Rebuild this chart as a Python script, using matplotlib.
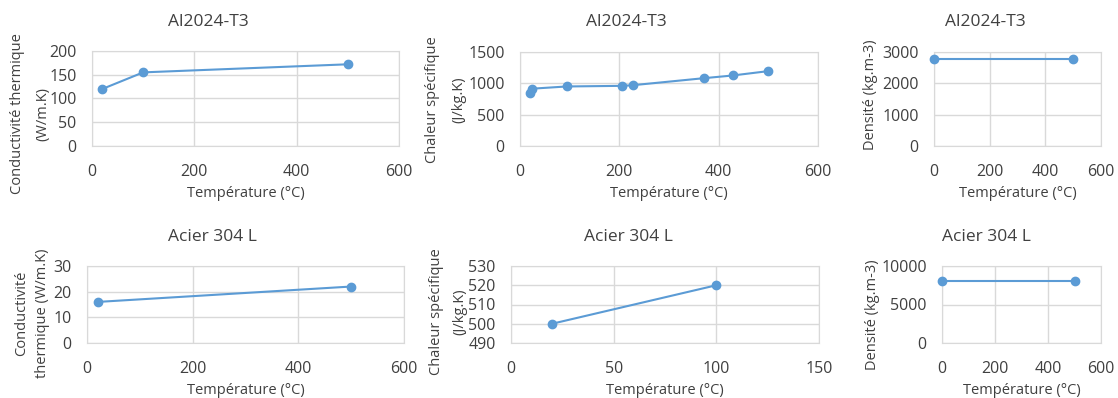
import matplotlib.pyplot as plt

plt.rcParams['font.family'] = ['Open Sans', 'DejaVu Sans']

# --- donnees ---
al_k_T = [20, 100, 500]
al_k = [120, 155, 172]

al_cp_T = [20, 25, 94, 206, 227, 370, 428, 500]
al_cp = [840, 915, 950, 960, 970, 1082, 1125, 1195]

al_rho_T = [0, 500]
al_rho = [2780, 2780]

ac_k_T = [20, 500]
ac_k = [16, 22]

ac_cp_T = [20, 100]
ac_cp = [500, 520]

ac_rho_T = [0, 500]
ac_rho = [8000, 8000]

W, H = 1118, 398
BLUE = '#5B9BD5'
GRID = '#D9D9D9'
TXT = '#404040'

fig = plt.figure(figsize=(W / 100, H / 100), dpi=100)


def px_axes(l, r, t, b):
    return fig.add_axes([l / W, 1 - b / H, (r - l) / W, (b - t) / H])


def ftext(x, y, s, **kw):
    fig.text(x / W, 1 - y / H, s, ha='center', va='center', color=TXT, **kw)


panels = [
    # (x, y, bornes axes px, xlim, xstep, ylim, ystep, titre, pos titre, ylabel lignes)
    (al_k_T, al_k, (92, 399, 51, 146), (0, 600), 200, (0, 200), 50, 'Al2024-T3',
     (208, 22), [('Conductivité thermique', 18, 114), ('(W/m.K)', 43, 114)]),
    (al_cp_T, al_cp, (520, 818, 52, 146), (0, 600), 200, (0, 1500), 500, 'Al2024-T3',
     (626, 22), [('Chaleur spécifique', 433, 100), ('(J/kg.K)', 459, 100)]),
    (al_rho_T, al_rho, (934, 1101, 52, 146), (0, 600), 200, (0, 3000), 1000, 'Al2024-T3',
     (985, 22), [('Densité (kg.m-3)', 870, 95)]),
    (ac_k_T, ac_k, (87, 404, 266, 343), (0, 600), 200, (0, 30), 10, 'Acier 304 L',
     (212, 237), [('Conductivité', 22, 313), ('thermique (W/m.K)', 43, 313)]),
    (ac_cp_T, ac_cp, (511, 819, 266, 343), (0, 150), 50, (490, 530), 10, 'Acier 304 L',
     (628, 237), [('Chaleur spécifique', 437, 312), ('(J/kg.K)', 460, 312)]),
    (ac_rho_T, ac_rho, (942, 1101, 266, 343), (0, 600), 200, (0, 10000), 5000, 'Acier 304 L',
     (986, 237), [('Densité (kg.m-3)', 873, 315)]),
]

for x, y, box, xlim, xstep, ylim, ystep, title, tpos, ylines in panels:
    l, r, t, b = box
    ax = px_axes(l, r, t, b)
    ax.plot(x, y, color=BLUE, lw=1.5, marker='o', ms=6, zorder=3, clip_on=False)
    ax.set_xlim(*xlim)
    ax.set_ylim(*ylim)
    ax.set_xticks(range(xlim[0], xlim[1] + 1, xstep))
    ax.set_yticks(range(ylim[0], ylim[1] + 1, ystep))
    ax.grid(True, color=GRID, lw=1)
    ax.set_axisbelow(True)
    for s in ax.spines.values():
        s.set_color(GRID)
    ax.tick_params(length=0, labelsize=11.5, colors=TXT, pad=11)
    ax.tick_params(axis='x', pad=13)
    ftext((l + r) / 2, b + 47, 'Température (°C)', fontsize=10.5)
    ftext(tpos[0], tpos[1], title, fontsize=12.5)
    for s, lx, ly in ylines:
        ftext(lx, ly, s, fontsize=10.5, rotation=90)

fig.savefig('out.png', dpi=100)
